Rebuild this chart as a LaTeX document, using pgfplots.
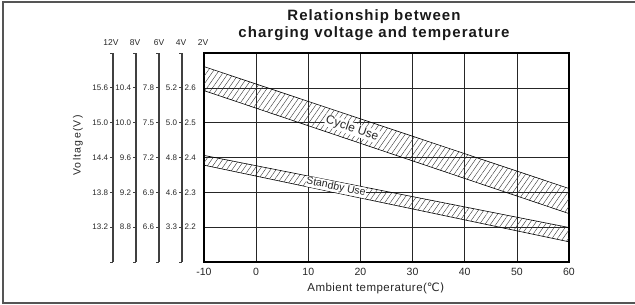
\documentclass[border=0pt]{standalone}
\usepackage{fontspec}
\setmainfont{Liberation Sans}
\newfontfamily\dejavu{DejaVu Sans}
\usepackage{pgfplots}
\pgfplotsset{compat=1.18}
\usetikzlibrary{patterns.meta}
\definecolor{frame}{RGB}{85,85,85}
\pgfplotsset{
  scaleaxis/.style={
    anchor=south west, scale only axis, width=1pt, height=209pt,
    xmin=0, xmax=1, ymin=2.1, ymax=2.7,
    hide x axis, axis y line=left,
    axis line style={-, line width=1.1pt, black!75},
    ytick={2.2,2.3,2.4,2.5,2.6},
    extra y ticks={2.1,2.7}, extra y tick labels={},
    tick align=outside, major tick length=3pt,
    tick style={black!75, line width=0.7pt},
    yticklabel style={font=\fontsize{8}{8}\selectfont, inner sep=1.8pt, text=black!85},
  }
}
\begin{document}
\begin{tikzpicture}[x=1pt,y=1pt]
\path[use as bounding box] (0,0) rectangle (635,305);
\draw[line width=1.6pt, frame] (636,303) -- (3,303) -- (3,2) -- (636,2);

\begin{axis}[at={(204pt,43pt)}, anchor=south west, scale only axis,
  width=365pt, height=209pt,
  xmin=-10, xmax=60, ymin=2.1, ymax=2.7,
  xtick={-10,0,10,20,30,40,50,60},
  xticklabels={-10,0,10,20,30,40,50,60},
  ytick={2.2,2.3,2.4,2.5,2.6},
  yticklabels={2.2,2.3,2.4,2.5,2.6},
  grid=major, grid style={black!85, line width=0.6pt},
  axis line style={black, line width=1.1pt},
  major tick length=0pt,
  xticklabel style={font=\fontsize{10.5}{10.5}\selectfont, anchor=center, yshift=-10pt, text=black!85},
  yticklabel style={font=\fontsize{8}{8}\selectfont, anchor=east, inner sep=0pt, xshift=-8pt, text=black!85},
  xlabel={Ambient temperature(\dejavu ℃)},
  xlabel style={font=\fontsize{11.5}{11.5}\selectfont\addfontfeatures{LetterSpace=4}, at={(axis description cs:0.471,0)}, anchor=center, yshift=-26pt, text=black!85},
]
\addplot[draw=black, line width=0.6pt, pattern={Lines[angle=55,distance=4.5pt,line width=0.4pt]}, pattern color=black!80]
  coordinates {(-10,2.661) (60,2.311) (60,2.239) (-10,2.592)} -- cycle;
\addplot[draw=black, line width=0.6pt, pattern={Lines[angle=55,distance=4.5pt,line width=0.4pt]}, pattern color=black!80]
  coordinates {(-10,2.406) (60,2.199) (60,2.158) (-10,2.378)} -- cycle;
\node[rotate=-18.6, fill=white, inner sep=0.6pt, font=\fontsize{12}{12}\selectfont, text=black!85] at (axis cs:18.4,2.483) {Cycle Use};
\node[rotate=-11.6, fill=white, inner sep=0.4pt, font=\fontsize{10.5}{10.5}\selectfont, text=black!85] at (axis cs:15.3,2.315) {Standby Use};
\end{axis}

\begin{axis}[scaleaxis, at={(113pt,43pt)}, yticklabels={13.2,13.8,14.4,15.0,15.6}]
\addplot[draw=none] coordinates {(0,2.4)};
\end{axis}
\begin{axis}[scaleaxis, at={(136pt,43pt)}, yticklabels={8.8,9.2,9.6,10.0,10.4}]
\addplot[draw=none] coordinates {(0,2.4)};
\end{axis}
\begin{axis}[scaleaxis, at={(159pt,43pt)}, yticklabels={6.6,6.9,7.2,7.5,7.8}]
\addplot[draw=none] coordinates {(0,2.4)};
\end{axis}
\begin{axis}[scaleaxis, at={(182pt,43pt)}, yticklabels={3.3,4.6,4.8,5.0,5.2}]
\addplot[draw=none] coordinates {(0,2.4)};
\end{axis}

\begin{scope}[font=\fontsize{8.5}{8.5}\selectfont, text=black!85]
\node at (111,262) {12V};
\node at (135,262) {8V};
\node at (159,262) {6V};
\node at (181,262) {4V};
\node at (203,262) {2V};
\end{scope}
\node[rotate=90, font=\fontsize{10.5}{10.5}\selectfont\addfontfeatures{LetterSpace=12}, text=black!85] at (78,159.5) {Voltage(V)};
\node[align=center, font=\fontsize{15}{16.5}\selectfont\bfseries\addfontfeatures{LetterSpace=7}, text=black!90] at (374,280) {Relationship between\\charging voltage and temperature};
\end{tikzpicture}
\end{document}
